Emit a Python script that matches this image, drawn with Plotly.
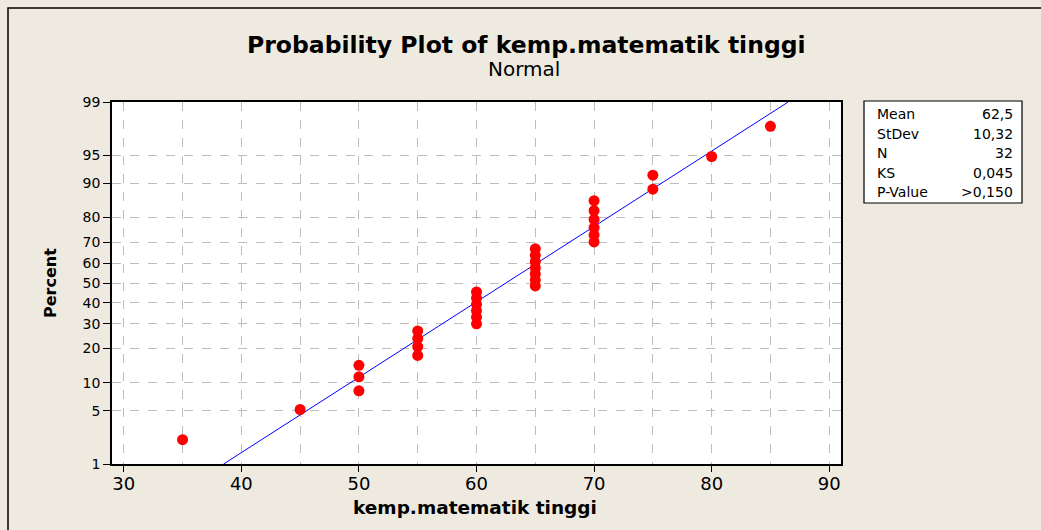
import plotly.graph_objects as go
from statistics import NormalDist

# ---- data ----
values = [35, 45, 50, 50, 50, 55, 55, 55, 55,
          60, 60, 60, 60, 60, 60,
          65, 65, 65, 65, 65, 65, 65,
          70, 70, 70, 70, 70, 70,
          75, 75, 80, 85]
percents = [2.2, 5.2, 8.3, 11.4, 14.5, 17.6, 20.7, 23.8, 26.9,
            30.0, 33.0, 36.1, 39.2, 42.3, 45.4,
            48.5, 51.5, 54.6, 57.7, 60.8, 63.9, 67.0,
            70.1, 73.1, 76.2, 79.3, 82.4, 85.5,
            88.6, 91.7, 94.8, 97.8]
mean_val = 62.5
sd_val = 10.32
stat_labels = ["Mean", "StDev", "N", "KS", "P-Value"]
stat_values = ["62,5", "10,32", "32", "0,045", ">0,150"]
y_ticks = [1, 5, 10, 20, 30, 40, 50, 60, 70, 80, 90, 95, 99]
fit_pct = [1, 99]

nd = NormalDist()
z = lambda p: nd.inv_cdf(p / 100.0)

W, H = 1041, 530
L, R, T, B = 112, 841, 102, 464
PW, PH = R - L, B - T
px = lambda x: (x - L) / PW
py = lambda y: (B - y) / PH

BG = "#EEEAE0"
FONT = "DejaVu Sans"

fig = go.Figure()
fig.add_trace(go.Scatter(
    x=[mean_val + z(p) * sd_val for p in fit_pct], y=[z(p) for p in fit_pct],
    mode="lines", line=dict(color="#0000FF", width=1), hoverinfo="skip"))
fig.add_trace(go.Scatter(
    x=values, y=[z(p) for p in percents], mode="markers",
    marker=dict(color="#FF0000", size=11, line=dict(width=0))))

grid = dict(gridcolor="#BDBDBD", griddash="dash", gridwidth=1)
fig.update_xaxes(range=[29, 91], tickvals=[30, 40, 50, 60, 70, 80, 90],
                 ticks="outside", ticklen=6, tickcolor="black", tickwidth=1,
                 ticklabelstandoff=-3,
                 showline=True, linecolor="black", linewidth=1.5, mirror=True,
                 showgrid=True, **grid,
                 minor=dict(tickvals=[35, 45, 55, 65, 75, 85], showgrid=True,
                            gridcolor="#BDBDBD", griddash="dash", ticks=""),
                 tickfont=dict(family=FONT, size=18, color="black"),
                 zeroline=False)
fig.update_yaxes(range=[z(1), z(99)], tickvals=[z(p) for p in y_ticks],
                 ticktext=[str(p) for p in y_ticks],
                 ticks="outside", ticklen=7, tickcolor="black", tickwidth=1,
                 showline=True, linecolor="black", linewidth=1.5, mirror=True,
                 showgrid=True, **grid,
                 tickfont=dict(family=FONT, size=14, color="black"),
                 zeroline=False)

shapes = [
    dict(type="rect", xref="paper", yref="paper", x0=px(8), x1=px(1060),
         y0=py(560), y1=py(8), line=dict(color="black", width=1.5), layer="below"),
    dict(type="rect", xref="paper", yref="paper", x0=px(864), x1=px(1022),
         y0=py(203), y1=py(101), line=dict(color="black", width=1.2),
         fillcolor="white"),
]
ann = [
    dict(text="<b>Probability Plot of kemp.matematik tinggi</b>", x=px(526), y=py(45),
         font=dict(family=FONT, size=23.5, color="black")),
    dict(text="Normal", x=px(524), y=py(69), font=dict(family=FONT, size=20, color="black")),
    dict(text="<b>kemp.matematik tinggi</b>", x=px(475), y=py(508),
         font=dict(family=FONT, size=18.5, color="black")),
    dict(text="<b>Percent</b>", x=px(50), y=py(283), textangle=-90,
         font=dict(family=FONT, size=16, color="black")),
]
for i, (lab, val) in enumerate(zip(stat_labels, stat_values)):
    yy = py(114 + i * 19.5)
    ann.append(dict(text=lab, x=px(875), y=yy, xanchor="left",
                    font=dict(family=FONT, size=14, color="black")))
    ann.append(dict(text=val, x=px(1015), y=yy, xanchor="right",
                    font=dict(family=FONT, size=14, color="black")))
for a in ann:
    a.setdefault("xanchor", "center")
    a.update(xref="paper", yref="paper", yanchor="middle", showarrow=False)

fig.update_layout(width=W, height=H, margin=dict(l=L, r=W - R, t=T, b=H - B),
                  paper_bgcolor=BG, plot_bgcolor="white", showlegend=False,
                  shapes=shapes, annotations=ann)
fig.write_html("out.html", config={"displayModeBar": False},
               post_script="document.body.style.margin='0';"
                           "document.body.style.background='" + BG + "';")
